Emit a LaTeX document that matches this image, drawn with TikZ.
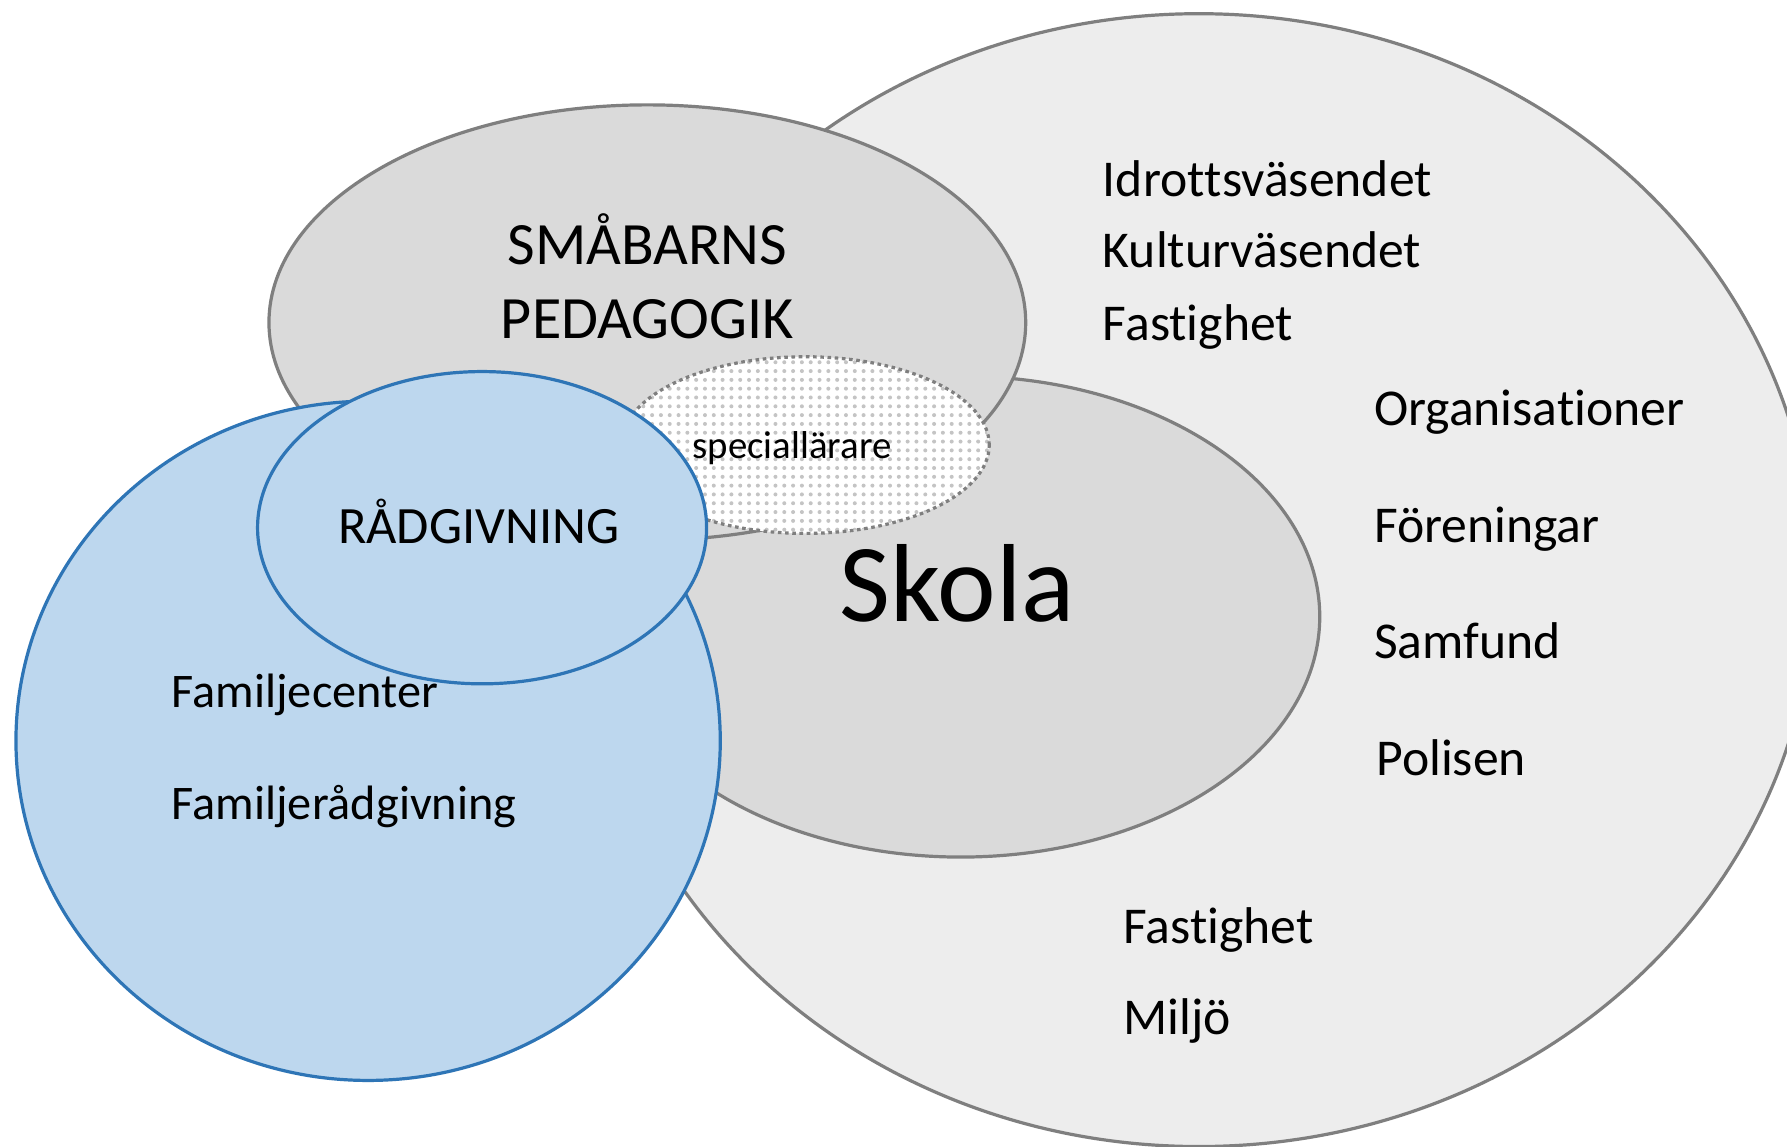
\documentclass[tikz,border=0pt]{standalone}
\usepackage{fontspec}
\setmainfont{Carlito}[RawFeature={-liga,-clig,-calt,-dlig}]
\usetikzlibrary{shapes.geometric,patterns.meta}
\definecolor{outerfill}{HTML}{EDEDED}
\definecolor{midfill}{HTML}{DADADA}
\definecolor{rim}{HTML}{7F7F7F}
\definecolor{bluefill}{HTML}{BDD7EE}
\definecolor{bluerim}{HTML}{2E75B6}
\definecolor{dotcol}{HTML}{C4C4C4}
\tikzset{
  blob/.style={ellipse, inner sep=0pt, line width=0.8pt},
  greyblob/.style={blob, draw=rim, fill=midfill},
  blueblob/.style={blob, draw=bluerim, fill=bluefill},
  body/.style={anchor=base west, inner sep=0pt, font=\fontsize{12.9}{15}\selectfont},
  famtext/.style={anchor=base west, inner sep=0pt, font=\fontsize{12.05}{15}\selectfont},
  head/.style={anchor=base, inner sep=0pt, font=\fontsize{15}{18}\selectfont},
}
\begin{document}
\begin{tikzpicture}
\useasboundingbox (0,0) rectangle (15.68,-10.06);
\clip (0,0) rectangle (15.68,-10.06);
\fill[white] (0,0) rectangle (15.68,-10.06);
% shapes
\node[blob, draw=rim, fill=outerfill, minimum width=10.8cm, minimum height=9.94cm] (outer) at (10.52,-5.09) {};
\node[greyblob, minimum width=6.30cm, minimum height=4.22cm] (skola) at (8.43,-5.41) {};
\node[greyblob, minimum width=6.64cm, minimum height=3.82cm] (smab) at (5.68,-2.83) {};
\node[blueblob, minimum width=6.18cm, minimum height=5.96cm] (fam) at (3.23,-6.50) {};
\node[blob, draw=rim, dash pattern=on 0.9pt off 0.9pt, preaction={fill=white},
  pattern={Dots[distance=2.2pt, radius=0.5pt]}, pattern color=dotcol,
  minimum width=3.23cm, minimum height=1.55cm] (spec) at (7.065,-3.905) {};
\node[blueblob, minimum width=3.94cm, minimum height=2.74cm] (radg) at (4.23,-4.63) {};
% labels
\node[head] (t1) at (5.68,-2.32) {SMÅBARNS};
\node[head] (t2) at (5.68,-2.97) {PEDAGOGIK};
\node[anchor=base, inner sep=0pt, font=\fontsize{9.7}{12}\selectfont] (t3) at (6.95,-4.02) {speciallärare};
\node[anchor=base, inner sep=0pt, font=\fontsize{13.1}{16}\selectfont] (t4) at (4.20,-4.77) {RÅDGIVNING};
\node[anchor=base, inner sep=0pt, font=\fontsize{27.7}{32}\selectfont] (t5) at (8.40,-5.45) {Skola};
\node[famtext] (t6) at (1.50,-6.21) {Familjecenter};
\node[famtext] (t7) at (1.50,-7.19) {Familjerådgivning};
\node[body] (t8) at (9.67,-1.72) {Idrot\kern0pt t\kern0pt sväsendet};
\node[body] (t9) at (9.67,-2.35) {Kulturväsendet};
\node[body] (t10) at (9.67,-2.99) {Fast\kern0pt ighet};
\node[body] (t11) at (12.05,-3.73) {Organisat\kern0pt ioner};
\node[body] (t12) at (12.05,-4.76) {Föreningar};
\node[body] (t13) at (12.05,-5.78) {Samfund};
\node[body] (t14) at (12.07,-6.80) {Polisen};
\node[body] (t15) at (9.85,-8.28) {Fast\kern0pt ighet};
\node[body] (t16) at (9.85,-9.08) {Miljö};
\end{tikzpicture}
\end{document}
